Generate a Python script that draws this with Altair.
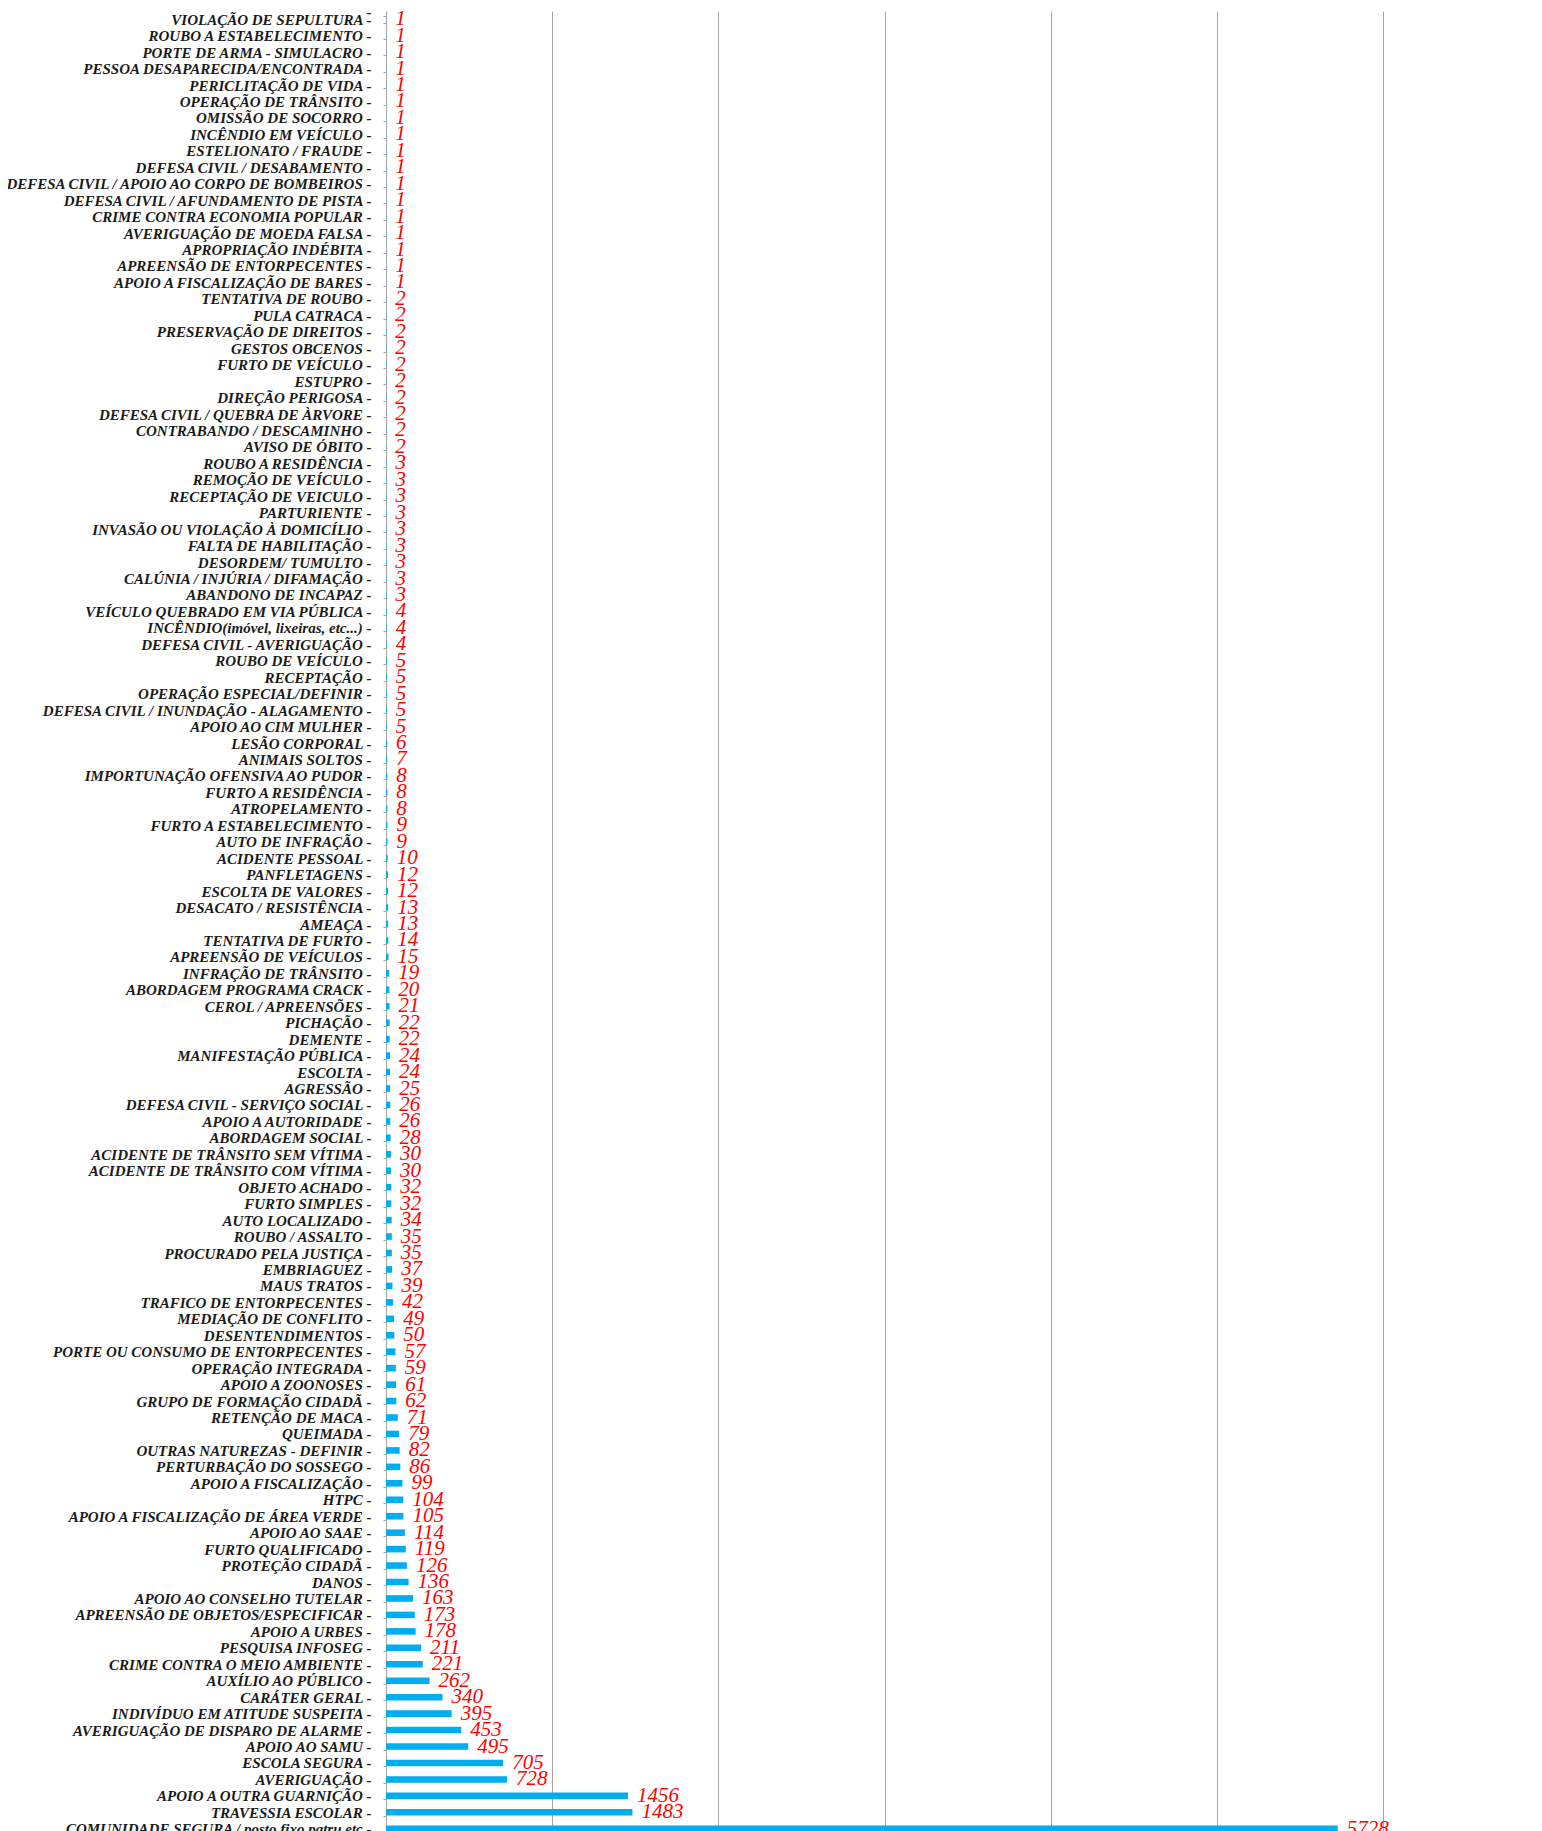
import altair as alt
import pandas as pd

categories = [
    "VIOLAÇÃO DE SEPULTURA", "ROUBO A ESTABELECIMENTO", "PORTE DE ARMA - SIMULACRO",
    "PESSOA DESAPARECIDA/ENCONTRADA", "PERICLITAÇÃO DE VIDA", "OPERAÇÃO DE TRÂNSITO",
    "OMISSÃO DE SOCORRO", "INCÊNDIO EM VEÍCULO", "ESTELIONATO / FRAUDE",
    "DEFESA CIVIL / DESABAMENTO", "DEFESA CIVIL / APOIO AO CORPO DE BOMBEIROS",
    "DEFESA CIVIL / AFUNDAMENTO DE PISTA", "CRIME CONTRA ECONOMIA POPULAR",
    "AVERIGUAÇÃO DE MOEDA FALSA", "APROPRIAÇÃO INDÉBITA", "APREENSÃO DE ENTORPECENTES",
    "APOIO A FISCALIZAÇÃO DE BARES", "TENTATIVA DE ROUBO", "PULA CATRACA",
    "PRESERVAÇÃO DE DIREITOS", "GESTOS OBCENOS", "FURTO DE VEÍCULO", "ESTUPRO",
    "DIREÇÃO PERIGOSA", "DEFESA CIVIL / QUEBRA DE ÀRVORE", "CONTRABANDO / DESCAMINHO",
    "AVISO DE ÓBITO", "ROUBO A RESIDÊNCIA", "REMOÇÃO DE VEÍCULO", "RECEPTAÇÃO DE VEICULO",
    "PARTURIENTE", "INVASÃO OU VIOLAÇÃO À DOMICÍLIO", "FALTA DE HABILITAÇÃO",
    "DESORDEM/ TUMULTO", "CALÚNIA / INJÚRIA / DIFAMAÇÃO", "ABANDONO DE INCAPAZ",
    "VEÍCULO QUEBRADO EM VIA PÚBLICA", "INCÊNDIO(imóvel, lixeiras, etc...)",
    "DEFESA CIVIL - AVERIGUAÇÃO", "ROUBO DE VEÍCULO", "RECEPTAÇÃO",
    "OPERAÇÃO ESPECIAL/DEFINIR", "DEFESA CIVIL / INUNDAÇÃO - ALAGAMENTO",
    "APOIO AO CIM MULHER", "LESÃO CORPORAL", "ANIMAIS SOLTOS",
    "IMPORTUNAÇÃO OFENSIVA AO PUDOR", "FURTO A RESIDÊNCIA", "ATROPELAMENTO",
    "FURTO A ESTABELECIMENTO", "AUTO DE INFRAÇÃO", "ACIDENTE PESSOAL", "PANFLETAGENS",
    "ESCOLTA DE VALORES", "DESACATO / RESISTÊNCIA", "AMEAÇA", "TENTATIVA DE FURTO",
    "APREENSÃO DE VEÍCULOS", "INFRAÇÃO DE TRÂNSITO", "ABORDAGEM PROGRAMA CRACK",
    "CEROL / APREENSÕES", "PICHAÇÃO", "DEMENTE", "MANIFESTAÇÃO PÚBLICA", "ESCOLTA",
    "AGRESSÃO", "DEFESA CIVIL - SERVIÇO SOCIAL", "APOIO A AUTORIDADE", "ABORDAGEM SOCIAL",
    "ACIDENTE DE TRÂNSITO SEM VÍTIMA", "ACIDENTE DE TRÂNSITO COM VÍTIMA", "OBJETO ACHADO",
    "FURTO SIMPLES", "AUTO LOCALIZADO", "ROUBO / ASSALTO", "PROCURADO PELA JUSTIÇA",
    "EMBRIAGUEZ", "MAUS TRATOS", "TRAFICO DE ENTORPECENTES", "MEDIAÇÃO DE CONFLITO",
    "DESENTENDIMENTOS", "PORTE OU CONSUMO DE ENTORPECENTES", "OPERAÇÃO INTEGRADA",
    "APOIO A ZOONOSES", "GRUPO DE FORMAÇÃO CIDADÃ", "RETENÇÃO DE MACA", "QUEIMADA",
    "OUTRAS NATUREZAS - DEFINIR", "PERTURBAÇÃO DO SOSSEGO", "APOIO A FISCALIZAÇÃO", "HTPC",
    "APOIO A FISCALIZAÇÃO DE ÁREA VERDE", "APOIO AO SAAE", "FURTO QUALIFICADO",
    "PROTEÇÃO CIDADÃ", "DANOS", "APOIO AO CONSELHO TUTELAR",
    "APREENSÃO DE OBJETOS/ESPECIFICAR", "APOIO A URBES", "PESQUISA INFOSEG",
    "CRIME CONTRA O MEIO AMBIENTE", "AUXÍLIO AO PÚBLICO", "CARÁTER GERAL",
    "INDIVÍDUO EM ATITUDE SUSPEITA", "AVERIGUAÇÃO DE DISPARO DE ALARME", "APOIO AO SAMU",
    "ESCOLA SEGURA", "AVERIGUAÇÃO", "APOIO A OUTRA GUARNIÇÃO", "TRAVESSIA ESCOLAR",
    "COMUNIDADE SEGURA / posto fixo patru etc",
]

values = [
    1, 1, 1, 1, 1, 1, 1, 1, 1, 1, 1, 1, 1, 1, 1, 1, 1,
    2, 2, 2, 2, 2, 2, 2, 2, 2, 2,
    3, 3, 3, 3, 3, 3, 3, 3, 3,
    4, 4, 4,
    5, 5, 5, 5, 5,
    6, 7, 8, 8, 8, 9, 9, 10, 12, 12, 13, 13, 14, 15, 19, 20, 21, 22, 22, 24, 24, 25,
    26, 26, 28, 30, 30, 32, 32, 34, 35, 35, 37, 39, 42, 49, 50, 57, 59, 61, 62, 71,
    79, 82, 86, 99, 104, 105, 114, 119, 126, 136, 163, 173, 178, 211, 221, 262, 340,
    395, 453, 495, 705, 728, 1456, 1483, 5728,
]

x_ticks = [0, 1000, 2000, 3000, 4000, 5000, 6000]

df = pd.DataFrame({"cat": categories, "val": values})

y_enc = alt.Y(
    "cat:N",
    sort=categories,
    title=None,
    scale=alt.Scale(paddingInner=0.6, paddingOuter=0.3),
    axis=alt.Axis(
        labelExpr="datum.label + ' -'",
        labelFont="Liberation Serif",
        labelFontStyle="italic",
        labelFontWeight="bold",
        labelFontSize=15,
        labelColor="#1a1a1a",
        labelPadding=12,
        labelLimit=0,
        tickBand="extent",
        tickSize=3,
        tickColor="#a6a6a6",
        domainColor="#a6a6a6",
        grid=False,
    ),
)

x_enc = alt.X(
    "val:Q",
    title=None,
    scale=alt.Scale(domain=[0, 6000], nice=False),
    axis=alt.Axis(
        values=x_ticks,
        labels=False,
        ticks=False,
        domain=False,
        grid=True,
        gridColor="#a6a6a6",
        gridWidth=1,
    ),
)

bars = alt.Chart(df).mark_bar(color="#00AEEF").encode(x=x_enc, y=y_enc)

labels = alt.Chart(df).mark_text(
    align="left",
    baseline="middle",
    dx=9,
    font="Liberation Serif",
    fontStyle="italic",
    fontSize=21,
    color="#ff0000",
).encode(x="val:Q", y=alt.Y("cat:N", sort=categories), text="val:Q")

chart = (
    alt.layer(bars, labels)
    .properties(
        width=997,
        height=1826,
        autosize=alt.AutoSizeParams(type="none"),
        padding={"left": 378, "top": 3, "right": 20, "bottom": 10},
        background="white",
    )
    .configure_view(strokeWidth=0, stroke="transparent")
)

chart.save("out.html", embed_options={"renderer": "svg", "actions": False})
